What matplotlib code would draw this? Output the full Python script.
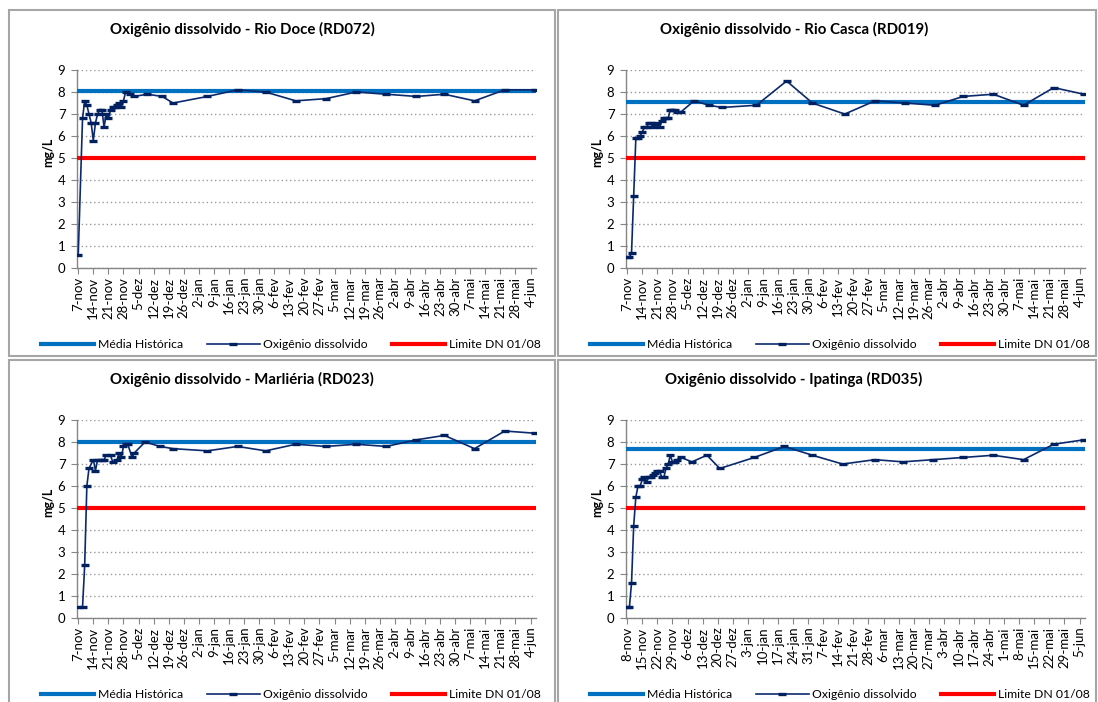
import pandas as pd
import matplotlib
matplotlib.use("Agg")
import matplotlib.pyplot as plt
from matplotlib.lines import Line2D
from matplotlib.patches import Rectangle

W, H = 1098, 702

# ===== dados: dias contados a partir da primeira coleta de cada ponto =====
titulos = ["Oxigênio dissolvido - Rio Doce (RD072)",
           "Oxigênio dissolvido - Rio Casca (RD019)",
           "Oxigênio dissolvido - Marliéria (RD023)",
           "Oxigênio dissolvido - Ipatinga (RD035)"]
inicio = ["2015-11-07", "2015-11-07", "2015-11-07", "2015-11-08"]
media_historica = [8.05, 7.55, 8.0, 7.7]
limite_dn = 5.0

doce_dias = [0, 2, 3, 4, 5, 6, 7, 8, 9, 10, 11, 12, 13, 14, 15, 16, 17, 18, 19, 20,
             21, 22, 24, 26, 32, 39, 44, 60, 74, 87, 101, 115, 129, 143, 157, 170, 184, 198, 212]
doce_od = [0.6, 6.8, 7.6, 7.4, 7.0, 6.6, 5.8, 6.6, 7.0, 7.2, 7.2, 6.4, 7.0, 6.8, 7.2, 7.3, 7.3, 7.4, 7.5, 7.3,
           7.6, 8.0, 7.9, 7.8, 7.9, 7.8, 7.5, 7.8, 8.1, 8.0, 7.6, 7.7, 8.0, 7.9, 7.8, 7.9, 7.6, 8.1, 8.1]

casca_dias = [0, 1, 2, 3, 4, 5, 6, 7, 8, 9, 10, 11, 12, 13, 14, 15, 16, 17, 18, 19, 20, 21, 22, 23,
              25, 31, 38, 44, 60, 74, 86, 101, 115, 129, 143, 156, 170, 184, 198, 212]
casca_od = [0.5, 0.5, 0.7, 3.3, 5.9, 5.9, 6.0, 6.2, 6.4, 6.4, 6.6, 6.6, 6.4, 6.5, 6.6, 6.4, 6.7, 6.8, 6.8, 6.8,
            7.2, 7.2, 7.2, 7.1, 7.1, 7.6, 7.4, 7.3, 7.4, 8.5, 7.5, 7.0, 7.6, 7.5, 7.4, 7.8, 7.9, 7.4, 8.2, 7.9]

marlieria_dias = [0, 2, 3, 4, 5, 7, 8, 9, 11, 12, 13, 15, 16, 18, 19, 20, 21, 22, 23, 25,
                  26, 31, 38, 44, 60, 74, 87, 101, 115, 129, 143, 157, 170, 184, 198, 212]
marlieria_od = [0.5, 0.5, 2.4, 6.0, 6.8, 7.2, 6.7, 7.2, 7.2, 7.2, 7.4, 7.4, 7.1, 7.2, 7.5, 7.3, 7.8, 7.9, 7.9, 7.3,
                7.5, 8.0, 7.8, 7.7, 7.6, 7.8, 7.6, 7.9, 7.8, 7.9, 7.8, 8.1, 8.3, 7.7, 8.5, 8.4]

ipatinga_dias = [0, 1, 2, 3, 4, 5, 6, 7, 8, 9, 10, 11, 12, 13, 14, 15, 16, 17, 18, 19, 20, 21, 22, 23,
                 25, 30, 37, 43, 59, 73, 86, 100, 115, 128, 142, 156, 170, 184, 198, 212]
ipatinga_od = [0.5, 0.5, 1.6, 4.2, 5.5, 6.0, 6.0, 6.3, 6.4, 6.2, 6.4, 6.4, 6.5, 6.6, 6.7, 6.7, 6.4, 6.4, 6.8, 7.0,
               7.4, 7.1, 7.1, 7.2, 7.3, 7.1, 7.4, 6.8, 7.3, 7.8, 7.4, 7.0, 7.2, 7.1, 7.2, 7.3, 7.4, 7.2, 7.9, 8.1]

series = [(doce_dias, doce_od), (casca_dias, casca_od),
          (marlieria_dias, marlieria_od), (ipatinga_dias, ipatinga_od)]

meses = ["jan", "fev", "mar", "abr", "mai", "jun", "jul", "ago", "set", "out", "nov", "dez"]
n_semanas = 31
y_ticks = list(range(0, 10))
legenda = ["Média Histórica", "Oxigênio dissolvido", "Limite DN 01/08"]

# ===== estilo =====
plt.rcParams['font.family'] = ['Lato', 'DejaVu Sans']
COR_MEDIA = "#0070C0"
COR_OD = "#0b2a6e"
COR_LIM = "#FF0000"
COR_EIXO = "#868686"


def fig_rect(l, t, r, b):
    return [l / W, 1 - b / H, (r - l) / W, (b - t) / H]


fig = plt.figure(figsize=(W / 100, H / 100), dpi=100)

# posicao de cada grafico (pixels): deslocamento da coluna / linha
offsets = [(0, 0), (549, 0), (0, 350), (549, 350)]

for i, (dx, dy) in enumerate(offsets):
    # moldura do grafico
    fl, ft = 9 + dx, 10 + dy
    fr = (555 if dx == 0 else 1096)
    fb = 356 + dy
    fig.add_artist(Rectangle((fl / W, 1 - fb / H), (fr - fl) / W, (fb - ft) / H,
                             transform=fig.transFigure, fill=False,
                             edgecolor="#a6a6a6", linewidth=1.5))

    ax = fig.add_axes(fig_rect(76.5 + dx, 70 + dy, 535.5 + dx, 268.3 + dy))
    dias, od = series[i]

    ax.axhline(media_historica[i], color=COR_MEDIA, lw=3.0, zorder=3)
    ax.axhline(limite_dn, color=COR_LIM, lw=3.0, zorder=3)
    ax.plot(dias, od, color=COR_OD, lw=1.2, marker="_", markersize=5.5,
            markeredgewidth=2.4, markeredgecolor="#002060", zorder=4)

    ax.set_xlim(-0.8, 212.3)
    ax.set_ylim(0, 9)

    # ticks semanais com nome do mes em portugues
    d0 = pd.Timestamp(inicio[i])
    pos = [7 * k for k in range(n_semanas)]
    labels = []
    for p in pos:
        d = d0 + pd.Timedelta(days=p)
        labels.append(f"{d.day}-{meses[d.month - 1]}")
    ax.set_xticks(pos)
    ax.set_xticklabels(labels, rotation=90, fontsize=9.5)
    ax.set_yticks(y_ticks)
    ax.tick_params(axis="y", labelsize=9.5, length=4, color=COR_EIXO, pad=4)
    ax.tick_params(axis="x", length=4, color=COR_EIXO, pad=2)

    ax.grid(axis="y", color="#9a9a9a", linestyle=(0, (1, 2)), linewidth=1.0)
    ax.set_axisbelow(True)
    for s in ["top", "right"]:
        ax.spines[s].set_visible(False)
    for s in ["left", "bottom"]:
        ax.spines[s].set_color(COR_EIXO)
        ax.spines[s].set_linewidth(1.0)

    # titulo e rotulo do eixo
    tx = 242 if dx == 0 else 794
    fig.text(tx / W, 1 - (29 + dy) / H, titulos[i], ha="center", va="center",
             fontsize=10.8, fontweight="bold")
    fig.text((48 + dx) / W, 1 - (152 + dy) / H, "mg/L", ha="center", va="center",
             rotation=90, fontsize=9, fontweight="bold")

    handles = [Line2D([], [], color=COR_MEDIA, lw=3.0),
               Line2D([], [], color=COR_OD, lw=1.2, marker="_", markersize=5.5,
                      markeredgewidth=2.4, markeredgecolor="#002060"),
               Line2D([], [], color=COR_LIM, lw=3.0)]
    fig.legend(handles, legenda,
               loc="center", bbox_to_anchor=((291 + dx) / W, 1 - (345 + dy) / H),
               ncol=3, frameon=False, fontsize=8.8, handlelength=4.3,
               handletextpad=0.3, columnspacing=2.0, numpoints=1,
               borderpad=0.2, borderaxespad=0)

fig.savefig("out.png", dpi=100)
